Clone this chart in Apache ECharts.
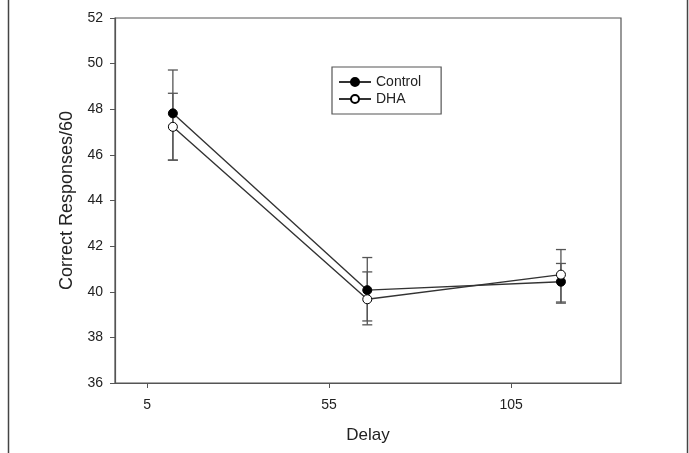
<!DOCTYPE html>
<html>
<head>
<meta charset="utf-8">
<script src="https://cdn.jsdelivr.net/npm/echarts@6/dist/echarts.min.js"></script>
<style>html,body{margin:0;padding:0;background:#fff}#c{width:689px;height:453px}</style>
</head>
<body>
<div id="c"></div>
<script>
const delays = [12.1, 65.5, 118.7];
const xTickLabels = [5, 55, 105];
const controlMean = [47.82, 40.07, 40.44];
const controlUpper = [49.72, 41.5, 41.24];
const controlLower = [45.77, 38.72, 39.55];
const dhaMean = [47.23, 39.67, 40.75];
const dhaUpper = [48.7, 40.87, 41.85];
const dhaLower = [45.77, 38.55, 39.5];

const font = '"Liberation Sans", Arial, sans-serif';
const chart = echarts.init(document.getElementById('c'), null, {renderer: 'canvas'});

function errSeries(upper, lower) {
  return {
    type: 'custom',
    silent: true,
    z: 1,
    data: delays.map((d, i) => [d, lower[i], upper[i]]),
    renderItem: function (params, api) {
      const x = api.value(0);
      const lo = api.coord([x, api.value(1)]);
      const hi = api.coord([x, api.value(2)]);
      const w = 5;
      const st = {stroke: '#555', lineWidth: 1.3};
      return {
        type: 'group',
        children: [
          {type: 'line', shape: {x1: lo[0], y1: lo[1], x2: hi[0], y2: hi[1]}, style: st},
          {type: 'line', shape: {x1: lo[0] - w, y1: lo[1], x2: lo[0] + w, y2: lo[1]}, style: st},
          {type: 'line', shape: {x1: hi[0] - w, y1: hi[1], x2: hi[0] + w, y2: hi[1]}, style: st}
        ]
      };
    }
  };
}

chart.setOption({
  animation: false,
  backgroundColor: '#fff',
  textStyle: {fontFamily: font},
  grid: {left: 115, right: 68, top: 18, bottom: 70, show: true, borderColor: '#555', borderWidth: 1.2},
  legend: {
    left: 332, top: 67,
    width: 80,
    orient: 'vertical',
    padding: [8, 20, 8, 6],
    borderColor: '#555', borderWidth: 1.2,
    itemGap: 3,
    itemWidth: 32, itemHeight: 10,
    textStyle: {fontFamily: font, fontSize: 14, color: '#222'},
    data: ['Control', 'DHA']
  },
  xAxis: {
    type: 'value',
    min: -3.8, max: 135.2,
    name: 'Delay',
    nameLocation: 'middle',
    nameGap: 44,
    nameTextStyle: {fontFamily: font, fontSize: 17, color: '#222'},
    axisLine: {onZero: false, lineStyle: {color: '#555', width: 1.2}},
    axisTick: {show: true, length: 5, customValues: xTickLabels, lineStyle: {color: '#555'}},
    axisLabel: {customValues: xTickLabels, fontFamily: font, fontSize: 14, color: '#222', margin: 15},
    splitLine: {show: false}
  },
  yAxis: {
    type: 'value',
    min: 36, max: 52, interval: 2,
    name: 'Correct Responses/60',
    nameLocation: 'middle',
    nameGap: 38,
    nameTextStyle: {fontFamily: font, fontSize: 18, color: '#222'},
    axisLine: {show: true, onZero: false, lineStyle: {color: '#555', width: 1.2}},
    axisTick: {show: true, length: 5, lineStyle: {color: '#555'}},
    axisLabel: {fontFamily: font, fontSize: 14, color: '#222', margin: 12},
    splitLine: {show: false}
  },
  graphic: [
    {type: 'line', shape: {x1: 8.5, y1: 0, x2: 8.5, y2: 453}, style: {stroke: '#444', lineWidth: 1.5}},
    {type: 'line', shape: {x1: 687.5, y1: 0, x2: 687.5, y2: 453}, style: {stroke: '#444', lineWidth: 1.5}}
  ],
  series: [
    errSeries(controlUpper, controlLower),
    errSeries(dhaUpper, dhaLower),
    {
      name: 'Control', type: 'line', z: 3,
      data: delays.map((d, i) => [d, controlMean[i]]),
      symbol: 'circle', symbolSize: 9,
      lineStyle: {color: '#333', width: 1.4},
      itemStyle: {color: '#000', borderColor: '#000', borderWidth: 1}
    },
    {
      name: 'DHA', type: 'line', z: 4,
      data: delays.map((d, i) => [d, dhaMean[i]]),
      symbol: 'circle', symbolSize: 9,
      lineStyle: {color: '#333', width: 1.4},
      itemStyle: {color: '#fff', borderColor: '#000', borderWidth: 1}
    }
  ]
});
</script>
</body>
</html>
